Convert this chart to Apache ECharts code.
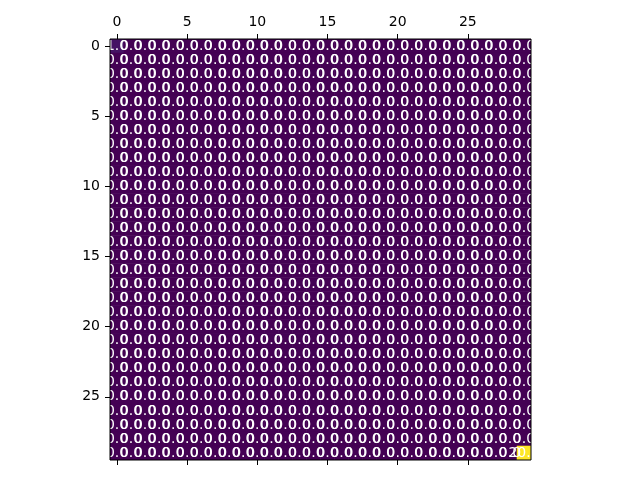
<!DOCTYPE html>
<html>
<head>
<meta charset="utf-8">
<script src="https://cdn.jsdelivr.net/npm/echarts@6/dist/echarts.min.js"></script>
<style>html,body{margin:0;padding:0;background:#fff}#c{width:640px;height:480px}</style>
</head>
<body>
<div id="c"></div>
<script>
// Matrix values (rows top to bottom, columns left to right)
var matrix = [
[1,0,0,0,0,0,0,0,0,0,0,0,0,0,0,0,0,0,0,0,0,0,0,0,0,0,0,0,0,0],
[0,0,0,0,0,0,0,0,0,0,0,0,0,0,0,0,0,0,0,0,0,0,0,0,0,0,0,0,0,0],
[0,0,0,0,0,0,0,0,0,0,0,0,0,0,0,0,0,0,0,0,0,0,0,0,0,0,0,0,0,0],
[0,0,0,0,0,0,0,0,0,0,0,0,0,0,0,0,0,0,0,0,0,0,0,0,0,0,0,0,0,0],
[0,0,0,0,0,0,0,0,0,0,0,0,0,0,0,0,0,0,0,0,0,0,0,0,0,0,0,0,0,0],
[0,0,0,0,0,0,0,0,0,0,0,0,0,0,0,0,0,0,0,0,0,0,0,0,0,0,0,0,0,0],
[0,0,0,0,0,0,0,0,0,0,0,0,0,0,0,0,0,0,0,0,0,0,0,0,0,0,0,0,0,0],
[0,0,0,0,0,0,0,0,0,0,0,0,0,0,0,0,0,0,0,0,0,0,0,0,0,0,0,0,0,0],
[0,0,0,0,0,0,0,0,0,0,0,0,0,0,0,0,0,0,0,0,0,0,0,0,0,0,0,0,0,0],
[0,0,0,0,0,0,0,0,0,0,0,0,0,0,0,0,0,0,0,0,0,0,0,0,0,0,0,0,0,0],
[0,0,0,0,0,0,0,0,0,0,0,0,0,0,0,0,0,0,0,0,0,0,0,0,0,0,0,0,0,0],
[0,0,0,0,0,0,0,0,0,0,0,0,0,0,0,0,0,0,0,0,0,0,0,0,0,0,0,0,0,0],
[0,0,0,0,0,0,0,0,0,0,0,0,0,0,0,0,0,0,0,0,0,0,0,0,0,0,0,0,0,0],
[0,0,0,0,0,0,0,0,0,0,0,0,0,0,0,0,0,0,0,0,0,0,0,0,0,0,0,0,0,0],
[0,0,0,0,0,0,0,0,0,0,0,0,0,0,0,0,0,0,0,0,0,0,0,0,0,0,0,0,0,0],
[0,0,0,0,0,0,0,0,0,0,0,0,0,0,0,0,0,0,0,0,0,0,0,0,0,0,0,0,0,0],
[0,0,0,0,0,0,0,0,0,0,0,0,0,0,0,0,0,0,0,0,0,0,0,0,0,0,0,0,0,0],
[0,0,0,0,0,0,0,0,0,0,0,0,0,0,0,0,0,0,0,0,0,0,0,0,0,0,0,0,0,0],
[0,0,0,0,0,0,0,0,0,0,0,0,0,0,0,0,0,0,0,0,0,0,0,0,0,0,0,0,0,0],
[0,0,0,0,0,0,0,0,0,0,0,0,0,0,0,0,0,0,0,0,0,0,0,0,0,0,0,0,0,0],
[0,0,0,0,0,0,0,0,0,0,0,0,0,0,0,0,0,0,0,0,0,0,0,0,0,0,0,0,0,0],
[0,0,0,0,0,0,0,0,0,0,0,0,0,0,0,0,0,0,0,0,0,0,0,0,0,0,0,0,0,0],
[0,0,0,0,0,0,0,0,0,0,0,0,0,0,0,0,0,0,0,0,0,0,0,0,0,0,0,0,0,0],
[0,0,0,0,0,0,0,0,0,0,0,0,0,0,0,0,0,0,0,0,0,0,0,0,0,0,0,0,0,0],
[0,0,0,0,0,0,0,0,0,0,0,0,0,0,0,0,0,0,0,0,0,0,0,0,0,0,0,0,0,0],
[0,0,0,0,0,0,0,0,0,0,0,0,0,0,0,0,0,0,0,0,0,0,0,0,0,0,0,0,0,0],
[0,0,0,0,0,0,0,0,0,0,0,0,0,0,0,0,0,0,0,0,0,0,0,0,0,0,0,0,0,0],
[0,0,0,0,0,0,0,0,0,0,0,0,0,0,0,0,0,0,0,0,0,0,0,0,0,0,0,0,0,0],
[0,0,0,0,0,0,0,0,0,0,0,0,0,0,0,0,0,0,0,0,0,0,0,0,0,0,0,0,0,0],
[0,0,0,0,0,0,0,0,0,0,0,0,0,0,0,0,0,0,0,0,0,0,0,0,0,0,0,0,0,20]
];
var colCategories = ['0','1','2','3','4','5','6','7','8','9','10','11','12','13','14','15','16','17','18','19','20','21','22','23','24','25','26','27','28','29'];
var rowCategories = colCategories.slice();
var viridis = ['#440154','#472d7b','#3b528b','#2c728e','#21918c','#28ae80','#5ec962','#addc30','#fde725'];

var data = [];
for (var r = 0; r < matrix.length; r++) {
  for (var c = 0; c < matrix[r].length; c++) {
    data.push([c, r, matrix[r][c]]);
  }
}

var gridL = 110, gridT = 39, gridW = 421, gridH = 421;
var font = 'DejaVu Sans';
var chart = echarts.init(document.getElementById('c'), null, {renderer: 'canvas'});
chart.setOption({
  animation: false,
  backgroundColor: '#fff',
  grid: {left: gridL, top: gridT, width: gridW, height: gridH, show: true, borderColor: '#000', borderWidth: 1, backgroundColor: 'transparent', z: 10},
  xAxis: [{
    type: 'category', data: colCategories, position: 'top', z: 10,
    axisLine: {show: false},
    axisTick: {show: true, alignWithLabel: true, interval: 4, length: 5, lineStyle: {color: '#000', width: 1}},
    axisLabel: {interval: 4, color: '#000', fontSize: 14, fontFamily: font, margin: 10},
    splitLine: {show: false}
  }, {
    type: 'category', data: colCategories, position: 'bottom', z: 10,
    axisLine: {show: false},
    axisTick: {show: true, alignWithLabel: true, interval: 4, length: 5, lineStyle: {color: '#000', width: 1}},
    axisLabel: {show: false},
    splitLine: {show: false}
  }],
  yAxis: {
    type: 'category', data: rowCategories, inverse: true, z: 10,
    axisLine: {show: false},
    axisTick: {show: true, alignWithLabel: true, interval: 4, length: 5, lineStyle: {color: '#000', width: 1}},
    axisLabel: {interval: 4, color: '#000', fontSize: 14, fontFamily: font, margin: 10},
    splitLine: {show: false}
  },
  visualMap: {show: false, min: 0, max: 20, dimension: 2, inRange: {color: viridis}},
  series: [{
    type: 'heatmap', data: data, xAxisIndex: 0, yAxisIndex: 0, z: 2,
    itemStyle: {borderWidth: 0},
    label: {show: true, color: '#fff', fontSize: 14, fontFamily: font,
      formatter: function (p) { return p.value[2].toFixed(1); }},
    emphasis: {disabled: true}
  }],
  graphic: [
    {type: 'rect', z: 5, silent: true, shape: {x: 0, y: 0, width: gridL, height: 480}, style: {fill: '#fff'}},
    {type: 'rect', z: 5, silent: true, shape: {x: gridL + gridW, y: 0, width: 640 - gridL - gridW, height: 480}, style: {fill: '#fff'}},
    {type: 'rect', z: 5, silent: true, shape: {x: 0, y: 0, width: 640, height: gridT}, style: {fill: '#fff'}},
    {type: 'rect', z: 5, silent: true, shape: {x: 0, y: gridT + gridH, width: 640, height: 480 - gridT - gridH}, style: {fill: '#fff'}}
  ]
});
</script>
</body>
</html>
